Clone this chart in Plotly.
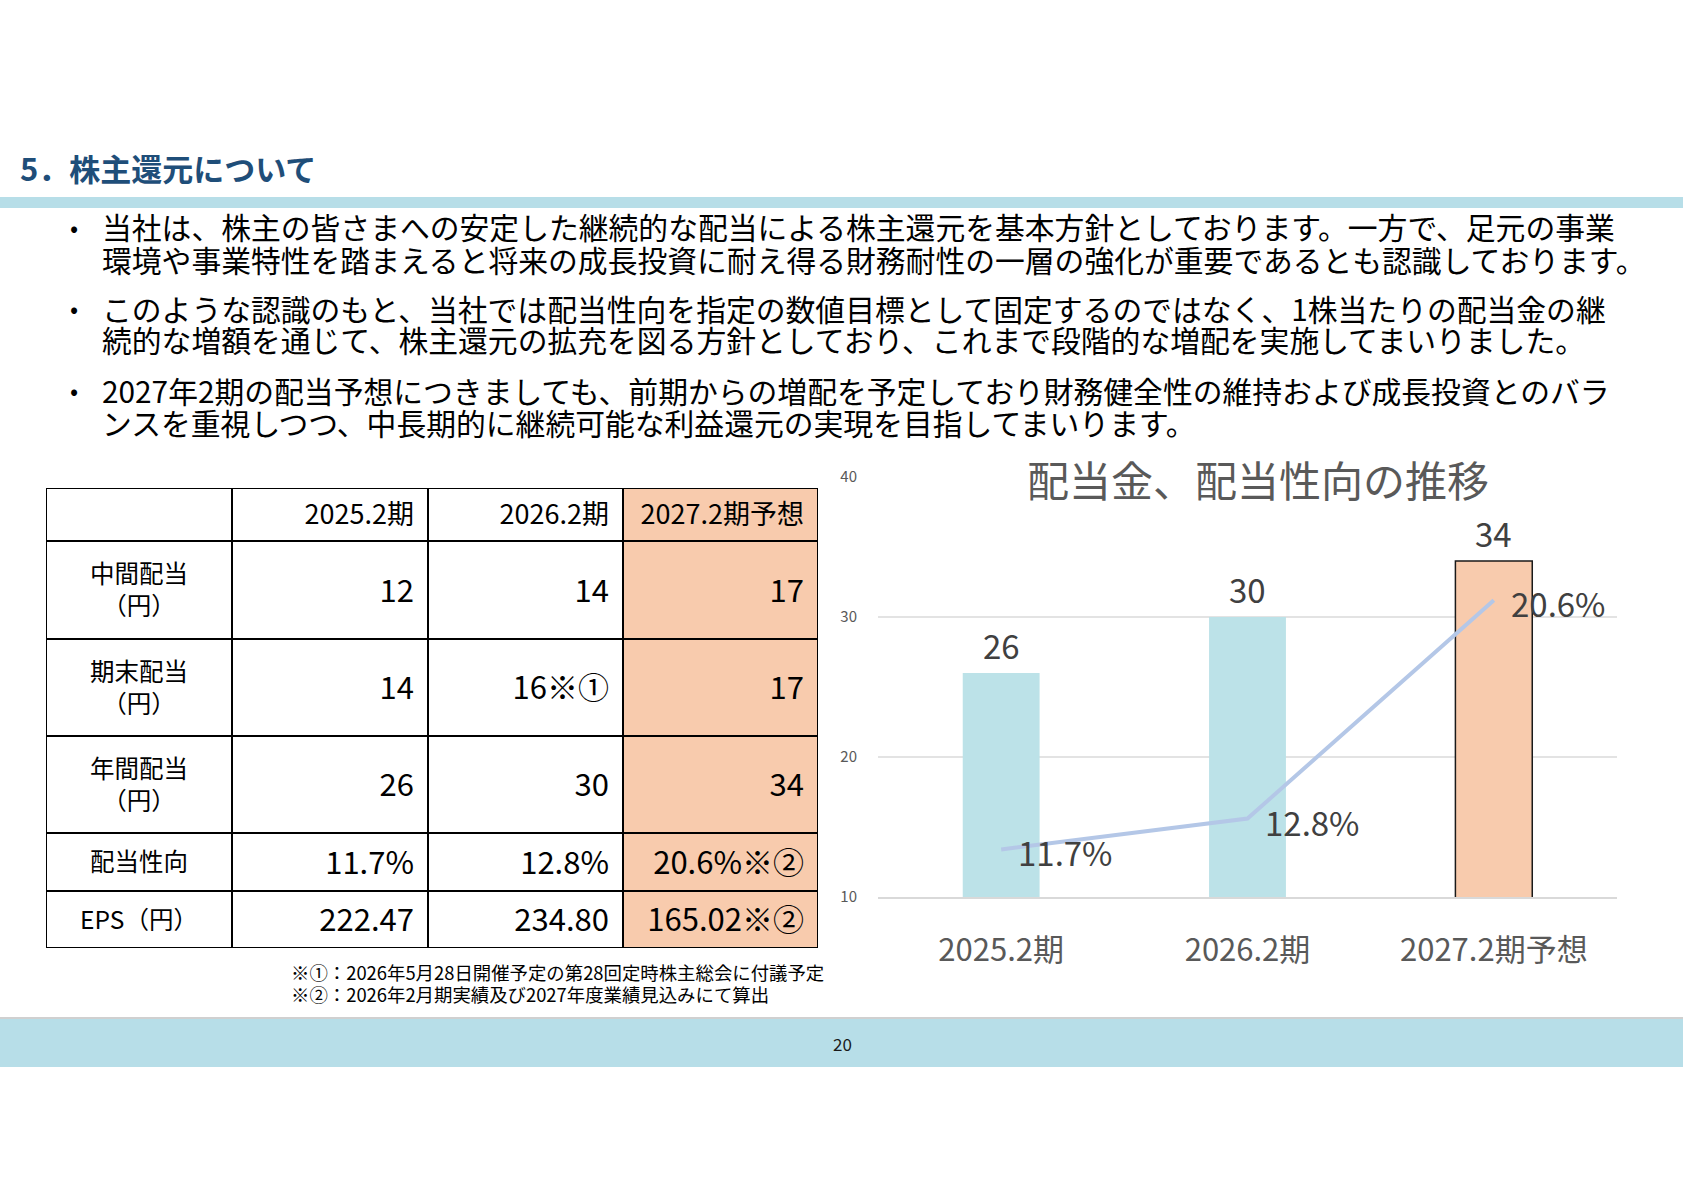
import plotly.graph_objects as go

# ---------------- data ----------------
periods = ["2025.2期", "2026.2期", "2027.2期予想"]
row_labels = ["中間配当<br>（円）", "期末配当<br>（円）", "年間配当<br>（円）", "配当性向", "EPS（円）"]
interim_div = [12, 14, 17]
year_end_div = [14, 16, 17]
year_end_note = ["", "※①", ""]
annual_div = [26, 30, 34]
payout_ratio = [11.7, 12.8, 20.6]
payout_note = ["", "", "※②"]
eps = [222.47, 234.80, 165.02]
eps_note = ["", "", "※②"]
forecast_flag = [0, 0, 1]
y_ticks = [10, 20, 30, 40]

page_title = "5．株主還元について"
chart_title = "配当金、配当性向の推移"
bullet_lines = [
    "当社は、株主の皆さまへの安定した継続的な配当による株主還元を基本方針としております。一方で、足元の事業",
    "環境や事業特性を踏まえると将来の成長投資に耐え得る財務耐性の一層の強化が重要であるとも認識しております。",
    "このような認識のもと、当社では配当性向を指定の数値目標として固定するのではなく、1株当たりの配当金の継",
    "続的な増額を通じて、株主還元の拡充を図る方針としており、これまで段階的な増配を実施してまいりました。",
    "2027年2期の配当予想につきましても、前期からの増配を予定しており財務健全性の維持および成長投資とのバラ",
    "ンスを重視しつつ、中長期的に継続可能な利益還元の実現を目指してまいります。",
]
footnotes = [
    "※①：2026年5月28日開催予定の第28回定時株主総会に付議予定",
    "※②：2026年2月期実績及び2027年度業績見込みにて算出",
]
page_no = "20"

# ---------------- layout constants ----------------
W, H = 1683, 1190
FONT = "Noto Sans CJK JP"
BAND = "#B7DEE8"
BAR_BLUE = "#BCE2E8"
PEACH = "#F8CBAD"
LINE_BLUE = "#B4C7E7"
GRAY_TXT = "#595959"
DARK_TXT = "#404040"

def px(x):
    return x / W

def py(y):
    return 1 - y / H

# table geometry (pixels)
TBL_X0, TBL_Y0 = 46, 488
col_w = [186, 196, 195, 195]
row_h = [53, 98, 97, 97, 58, 57]
x_edges = [0]
for w in col_w:
    x_edges.append(x_edges[-1] + w)
y_edges = [0]
for h in row_h:
    y_edges.append(y_edges[-1] + h)
TBL_W, TBL_H = x_edges[-1], y_edges[-1]
PAD = 14
TXT_DY = 3

fig = go.Figure()

# ---------------- chart ----------------
fig.add_trace(go.Bar(
    x=periods, y=annual_div,
    marker=dict(color=[PEACH if f else BAR_BLUE for f in forecast_flag],
                line=dict(color="#1a1a1a", width=[1.5 if f else 0 for f in forecast_flag])),
    width=0.312,
    xaxis="x", yaxis="y", showlegend=False, hoverinfo="skip",
))
fig.add_trace(go.Scatter(
    x=periods, y=[v / 100 for v in payout_ratio],
    mode="lines",
    line=dict(color=LINE_BLUE, width=4),
    cliponaxis=False, xaxis="x", yaxis="y2", showlegend=False, hoverinfo="skip",
))

annotations = []
for p, v in zip(periods, annual_div):
    annotations.append(dict(text=str(v), xref="x", yref="y", x=p, y=v, yshift=28,
                            xanchor="center", yanchor="middle", showarrow=False,
                            font=dict(size=33, color=DARK_TXT, family=FONT)))
for p, v in zip(periods, payout_ratio):
    annotations.append(dict(text=f"{v:.1f}%", xref="x", yref="y2", x=p, y=v / 100,
                            xshift=15, yshift=-3,
                            xanchor="left", yanchor="middle", showarrow=False,
                            font=dict(size=33, color=DARK_TXT, family=FONT)))

# ---------------- table ----------------
z = [[1 if (c > 0 and forecast_flag[c - 1]) else 0 for c in range(len(col_w))] for _ in row_h]
fig.add_trace(go.Heatmap(
    x=x_edges, y=y_edges, z=z,
    colorscale=[[0, "white"], [1, PEACH]], zmin=0, zmax=1,
    showscale=False, hoverinfo="skip", xaxis="x3", yaxis="y3",
))

def ccenter(i):
    return (x_edges[i] + x_edges[i + 1]) / 2

def rcenter(j):
    return (y_edges[j] + y_edges[j + 1]) / 2 + TXT_DY

# header
fig.add_trace(go.Scatter(
    x=[x_edges[i + 2] - PAD for i in range(3)], y=[rcenter(0)] * 3,
    mode="text", text=periods, textposition="middle left",
    textfont=dict(size=27, color="black", family=FONT),
    xaxis="x3", yaxis="y3", showlegend=False, hoverinfo="skip",
))
# row labels
fig.add_trace(go.Scatter(
    x=[ccenter(0)] * len(row_labels), y=[rcenter(j + 1) for j in range(len(row_labels))],
    mode="text", text=row_labels, textposition="middle center",
    textfont=dict(size=24.5, color="black", family=FONT),
    xaxis="x3", yaxis="y3", showlegend=False, hoverinfo="skip",
))
# values
rows_vals = [
    [str(v) for v in interim_div],
    [f"{v}{n}" for v, n in zip(year_end_div, year_end_note)],
    [str(v) for v in annual_div],
    [f"{v:.1f}%{n}" for v, n in zip(payout_ratio, payout_note)],
    [f"{v:.2f}{n}" for v, n in zip(eps, eps_note)],
]
vx, vy, vt = [], [], []
for j, vals in enumerate(rows_vals):
    for i, t in enumerate(vals):
        vx.append(x_edges[i + 2] - PAD)
        vy.append(rcenter(j + 1) + 1)
        vt.append(t)
fig.add_trace(go.Scatter(
    x=vx, y=vy, mode="text", text=vt, textposition="middle left",
    textfont=dict(size=31, color="black", family=FONT),
    xaxis="x3", yaxis="y3", showlegend=False, hoverinfo="skip",
))

shapes = []
for xe in x_edges:
    shapes.append(dict(type="line", xref="x3", yref="y3", x0=xe, x1=xe, y0=0, y1=TBL_H,
                       line=dict(color="black", width=2)))
for ye in y_edges:
    shapes.append(dict(type="line", xref="x3", yref="y3", x0=0, x1=TBL_W, y0=ye, y1=ye,
                       line=dict(color="black", width=2)))

# page decorations
shapes.append(dict(type="rect", xref="paper", yref="paper", x0=0, x1=1, y0=py(208), y1=py(197),
                   fillcolor=BAND, line=dict(width=0), layer="below"))
shapes.append(dict(type="rect", xref="paper", yref="paper", x0=0, x1=1, y0=py(1067), y1=py(1018),
                   fillcolor=BAND, line=dict(width=0), layer="below"))
shapes.append(dict(type="line", xref="paper", yref="paper", x0=0, x1=1, y0=py(1018), y1=py(1018),
                   line=dict(color="#D0D0D0", width=2)))

annotations.append(dict(text=f"<b>{page_title}</b>", xref="paper", yref="paper", x=px(18), y=py(168),
                        xanchor="left", yanchor="middle", showarrow=False,
                        font=dict(size=31, color="#1F4E79", family=FONT)))
line_y = [226, 259, 308, 339, 390, 422]
for k, (t, yy) in enumerate(zip(bullet_lines, line_y)):
    annotations.append(dict(text=t, xref="paper", yref="paper", x=px(100), y=py(yy),
                            xanchor="left", yanchor="middle", showarrow=False,
                            font=dict(size=29.8, color="black", family=FONT)))
    if k % 2 == 0:
        annotations.append(dict(text="•", xref="paper", yref="paper", x=px(74), y=py(yy),
                                xanchor="center", yanchor="middle", showarrow=False,
                                font=dict(size=24, color="black", family=FONT)))
annotations.append(dict(text=chart_title, xref="paper", yref="paper", x=px(1258), y=py(478),
                        xanchor="center", yanchor="middle", showarrow=False,
                        font=dict(size=42, color=GRAY_TXT, family=FONT)))
for t, yy in zip(footnotes, [972, 994]):
    annotations.append(dict(text=t, xref="paper", yref="paper", x=px(289), y=py(yy),
                            xanchor="left", yanchor="middle", showarrow=False,
                            font=dict(size=18.4, color="black", family=FONT)))
annotations.append(dict(text=page_no, xref="paper", yref="paper", x=px(842), y=py(1043),
                        xanchor="center", yanchor="middle", showarrow=False,
                        font=dict(size=17, color="#1a1a1a", family=FONT)))

fig.update_layout(
    width=W, height=H, autosize=False,
    margin=dict(l=0, r=0, t=0, b=0, pad=0, autoexpand=False),
    paper_bgcolor="white", plot_bgcolor="rgba(0,0,0,0)",
    font=dict(family=FONT),
    showlegend=False,
    xaxis=dict(domain=[px(878), px(1617)], type="category", showgrid=False,
               showline=True, linecolor="#D9D9D9", linewidth=1.5,
               ticks="", tickfont=dict(size=31, color=GRAY_TXT, family=FONT),
               ticklabelstandoff=25, fixedrange=True, automargin=False),
    yaxis=dict(domain=[py(897), py(477)], range=[10, 40], tickvals=y_ticks,
               showgrid=True, gridcolor="#E3E3E3", gridwidth=1.5, zeroline=False,
               showline=False, ticks="", tickfont=dict(size=15, color=GRAY_TXT, family=FONT),
               ticklabelstandoff=20, fixedrange=True, automargin=False),
    yaxis2=dict(overlaying="y", side="right", range=[0.10, 0.25], visible=False,
                fixedrange=True, automargin=False),
    xaxis3=dict(domain=[px(TBL_X0), px(TBL_X0 + TBL_W)], range=[0, TBL_W], visible=False,
                fixedrange=True, automargin=False),
    yaxis3=dict(domain=[py(TBL_Y0 + TBL_H), py(TBL_Y0)], range=[TBL_H, 0], visible=False,
                fixedrange=True, automargin=False),
    shapes=shapes, annotations=annotations,
)

fig.write_html(
    "out.html",
    config={"displayModeBar": False, "staticPlot": True},
    post_script="document.body.style.margin='0';document.body.style.overflow='hidden';",
)
